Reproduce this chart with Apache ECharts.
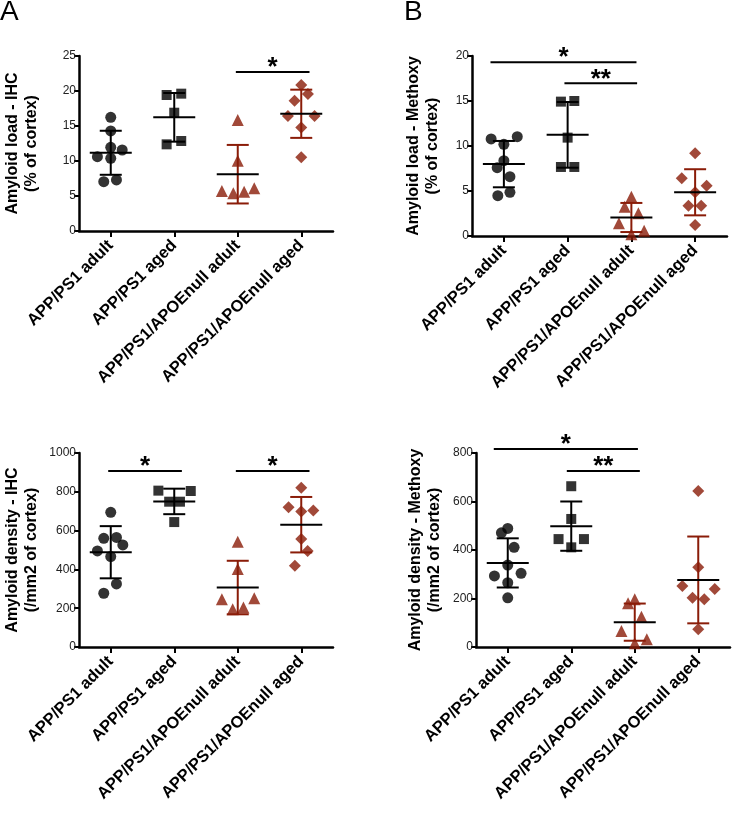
<!DOCTYPE html>
<html><head><meta charset="utf-8">
<script src="https://cdn.jsdelivr.net/npm/echarts@6/dist/echarts.min.js"></script>
<style>html,body{margin:0;padding:0;background:#fff}#c{width:732px;height:827px}</style>
</head><body><div id="c"></div><script>
const categories = ['APP/PS1 adult', 'APP/PS1 aged', 'APP/PS1/APOEnull adult', 'APP/PS1/APOEnull aged'];

// Panel A top: Amyloid load - IHC (% of cortex)
const loadIhcAdult = [16.24, 14.3, 11.95, 11.57, 10.62, 10.38, 7.29, 7.05];
const loadIhcAged = [19.62, 19.43, 16.9, 12.86, 12.38];
const loadIhcNullAdult = [15.86, 10.05, 6.1, 5.7, 5.6, 5.38];
const loadIhcNullAged = [20.86, 19.57, 18.62, 16.43, 16.43, 14.8, 10.52];
// Panel B top: Amyloid load - Methoxy (% of cortex)
const loadMxAdult = [11.04, 10.78, 10.19, 8.37, 7.59, 6.59, 4.85, 4.48];
const loadMxAged = [15.0, 14.93, 10.93, 7.67, 7.67];
const loadMxNullAdult = [4.37, 3.26, 2.52, 1.41, 0.59, 0.19];
const loadMxNullAged = [9.19, 6.41, 5.59, 4.85, 3.37, 3.37, 1.22];
// Panel A bottom: Amyloid density - IHC (/mm2 of cortex)
const densIhcAdult = [694, 565, 560, 526, 495, 466, 325, 277];
const densIhcAged = [806, 804, 749, 749, 644];
const densIhcNullAdult = [543, 402, 251, 246, 203, 194];
const densIhcNullAged = [821, 720, 703, 698, 557, 495, 419];
// Panel B bottom: Amyloid density - Methoxy (/mm2 of cortex)
const densMxAdult = [489, 471, 411, 338, 304, 293, 265, 203];
const densMxAged = [663, 528, 445, 445, 411];
const densMxNullAdult = [197, 180, 125, 66, 32, 15];
const densMxNullAged = [643, 329, 252, 239, 203, 197, 73];

// horizontal scatter spread of each point (in category widths), same order as values
const jitLoadIhc = [[0,0,0,0.18,-0.21,0,0.09,-0.11],[0.11,-0.12,0,0.11,-0.12],[0,0,0.26,-0.25,0.1,-0.07],[0,0.105,-0.105,-0.21,0.21,0,0]];
const jitLoadMx = [[0.21,-0.2,0,0,-0.105,0.095,0.095,-0.095],[0.105,-0.105,0,-0.105,0.105],[0,-0.105,0.11,-0.195,0.2,0],[0,-0.21,0.18,0,-0.105,0.095,0]];
const jitDensIhc = [[0,0.09,-0.11,0.19,-0.21,0,0.09,-0.11],[-0.25,0.26,-0.08,0.09,0],[0,0,0.26,-0.25,0.09,-0.08],[0,-0.2,0.19,0,0,0.1,-0.1]];
const jitDensMx = [[0,-0.1,0.1,0,0.21,-0.21,0,0],[0,0,-0.2,0.2,0],[0,-0.105,0.105,-0.21,0.19,0],[0,0,-0.25,0.26,-0.09,0.095,0]];

// significance brackets: [from group, to group, value level, label]
const sigLoadIhc = [[1.97, 3.13, 22.7, '*']];
const sigLoadMx = [[-0.21, 2.08, 19.3, '*'], [0.95, 2.09, 16.96, '**']];
const sigDensIhc = [[-0.04, 1.12, 907, '*'], [1.97, 3.13, 907, '*']];
const sigDensMx = [[-0.22, 2.05, 816, '*'], [0.93, 2.08, 726, '**']];

// y axis tick settings
const yLoadIhc = {min: 0, max: 25, interval: 5};
const yLoadMx = {min: 0, max: 20, interval: 5};
const yDensIhc = {min: 0, max: 1000, interval: 200};
const yDensMx = {min: 0, max: 800, interval: 200};

const FONT = '"Liberation Sans", Arial, Helvetica, sans-serif';
const RED = '#8a1c08';
const groupColors = ['#000', '#000', RED, RED];
const groupSymbols = ['circle', 'rect', 'triangle', 'diamond'];
const groupSizes = [11, 10, 12, 12];

const panels = [
  {groups: [loadIhcAdult, loadIhcAged, loadIhcNullAdult, loadIhcNullAged], jit: jitLoadIhc, sig: sigLoadIhc, y: yLoadIhc,
   name: 'Amyloid load - IHC\n(% of cortex)', grid: {left: 79, top: 56, width: 254, height: 175}, nameGap: 38},
  {groups: [loadMxAdult, loadMxAged, loadMxNullAdult, loadMxNullAged], jit: jitLoadMx, sig: sigLoadMx, y: yLoadMx,
   name: 'Amyloid load - Methoxy\n(% of cortex)', grid: {left: 472, top: 56, width: 255, height: 180}, nameGap: 30},
  {groups: [densIhcAdult, densIhcAged, densIhcNullAdult, densIhcNullAged], jit: jitDensIhc, sig: sigDensIhc, y: yDensIhc,
   name: 'Amyloid density - IHC\n(/mm2 of cortex)', grid: {left: 79, top: 453, width: 254, height: 194}, nameGap: 38},
  {groups: [densMxAdult, densMxAged, densMxNullAdult, densMxNullAged], jit: jitDensMx, sig: sigDensMx, y: yDensMx,
   name: 'Amyloid density - Methoxy\n(/mm2 of cortex)', grid: {left: 476, top: 453, width: 254, height: 194}, nameGap: 32}
];

function mean(a) { return a.reduce((s, v) => s + v, 0) / a.length; }
function sd(a) { const m = mean(a); return Math.sqrt(a.reduce((s, v) => s + (v - m) * (v - m), 0) / (a.length - 1)); }

const grid = [], xAxis = [], yAxis = [], series = [];
panels.forEach((p, i) => {
  grid.push(p.grid);
  xAxis.push({
    type: 'category', gridIndex: i, data: categories, boundaryGap: true,
    axisLine: {show: true, onZero: false, lineStyle: {color: '#000', width: 2.5}},
    axisTick: {show: true, alignWithLabel: true, length: 6, lineStyle: {color: '#000', width: 2}},
    axisLabel: {interval: 0, rotate: 45, margin: 12, color: '#000', fontSize: 16.5, fontWeight: 'bold', fontFamily: FONT},
    splitLine: {show: false}
  });
  const valIdx = xAxis.length;
  xAxis.push({type: 'value', gridIndex: i, min: -0.5, max: 3.5, show: false});
  yAxis.push({
    type: 'value', gridIndex: i, min: p.y.min, max: p.y.max, interval: p.y.interval,
    name: p.name, nameLocation: 'middle', nameGap: p.nameGap,
    nameTextStyle: {fontSize: 16, fontWeight: 'bold', color: '#000', fontFamily: FONT, lineHeight: 19},
    axisLine: {show: true, onZero: false, lineStyle: {color: '#000', width: 2.5}},
    axisTick: {show: true, length: 5, lineStyle: {color: '#000', width: 2}},
    axisLabel: {fontSize: 12, color: '#222', margin: 3, fontFamily: FONT, formatter: (v) => String(v)},
    splitLine: {show: false}
  });
  p.groups.forEach((vals, g) => {
    series.push({
      type: 'scatter', xAxisIndex: valIdx, yAxisIndex: i,
      symbol: groupSymbols[g], symbolSize: groupSizes[g],
      itemStyle: {color: groupColors[g]},
      data: vals.map((v, k) => [g + p.jit[g][k], v]),
      z: 2, silent: true
    });
  });
  series.push({
    type: 'custom', xAxisIndex: valIdx, yAxisIndex: i, z: 3, silent: true,
    encode: {x: 0, y: 1},
    data: p.groups.map((vals, g) => [g, mean(vals), sd(vals)]),
    renderItem: function (params, api) {
      const g = api.value(0), m = api.value(1), s = api.value(2);
      const c = api.coord([g, m]), t = api.coord([g, m + s]), b = api.coord([g, m - s]);
      const col = groupColors[g];
      const st = (color) => ({stroke: color, lineWidth: 2});
      return {type: 'group', children: [
        {type: 'line', shape: {x1: c[0], y1: t[1], x2: c[0], y2: b[1]}, style: st(col)},
        {type: 'line', shape: {x1: c[0] - 11, y1: t[1], x2: c[0] + 11, y2: t[1]}, style: st(col)},
        {type: 'line', shape: {x1: c[0] - 11, y1: b[1], x2: c[0] + 11, y2: b[1]}, style: st(col)},
        {type: 'line', shape: {x1: c[0] - 21, y1: c[1], x2: c[0] + 21, y2: c[1]}, style: st('#000')}
      ]};
    }
  });
  const sig = p.sig;
  series.push({
    type: 'custom', xAxisIndex: valIdx, yAxisIndex: i, z: 3, silent: true,
    encode: {x: [0, 1], y: 2},
    data: sig.map(s => [s[0], s[1], s[2]]),
    renderItem: function (params, api) {
      const a = api.coord([api.value(0), api.value(2)]), b = api.coord([api.value(1), api.value(2)]);
      return {type: 'group', children: [
        {type: 'line', shape: {x1: a[0], y1: a[1], x2: b[0], y2: b[1]}, style: {stroke: '#000', lineWidth: 2}},
        {type: 'text', x: (a[0] + b[0]) / 2, y: a[1] + 9, style: {text: sig[params.dataIndex][3], fill: '#000',
          fontSize: 26, fontWeight: 'bold', fontFamily: FONT, align: 'center', verticalAlign: 'bottom'}}
      ]};
    }
  });
});

const chart = echarts.init(document.getElementById('c'), null, {renderer: 'canvas'});
chart.setOption({
  animation: false,
  backgroundColor: '#fff',
  grid, xAxis, yAxis, series,
  graphic: [
    {type: 'text', left: 0, top: -2, style: {text: 'A', fontSize: 28, fill: '#000', fontFamily: FONT}},
    {type: 'text', left: 404, top: -2, style: {text: 'B', fontSize: 28, fill: '#000', fontFamily: FONT}}
  ]
});
</script></body></html>
